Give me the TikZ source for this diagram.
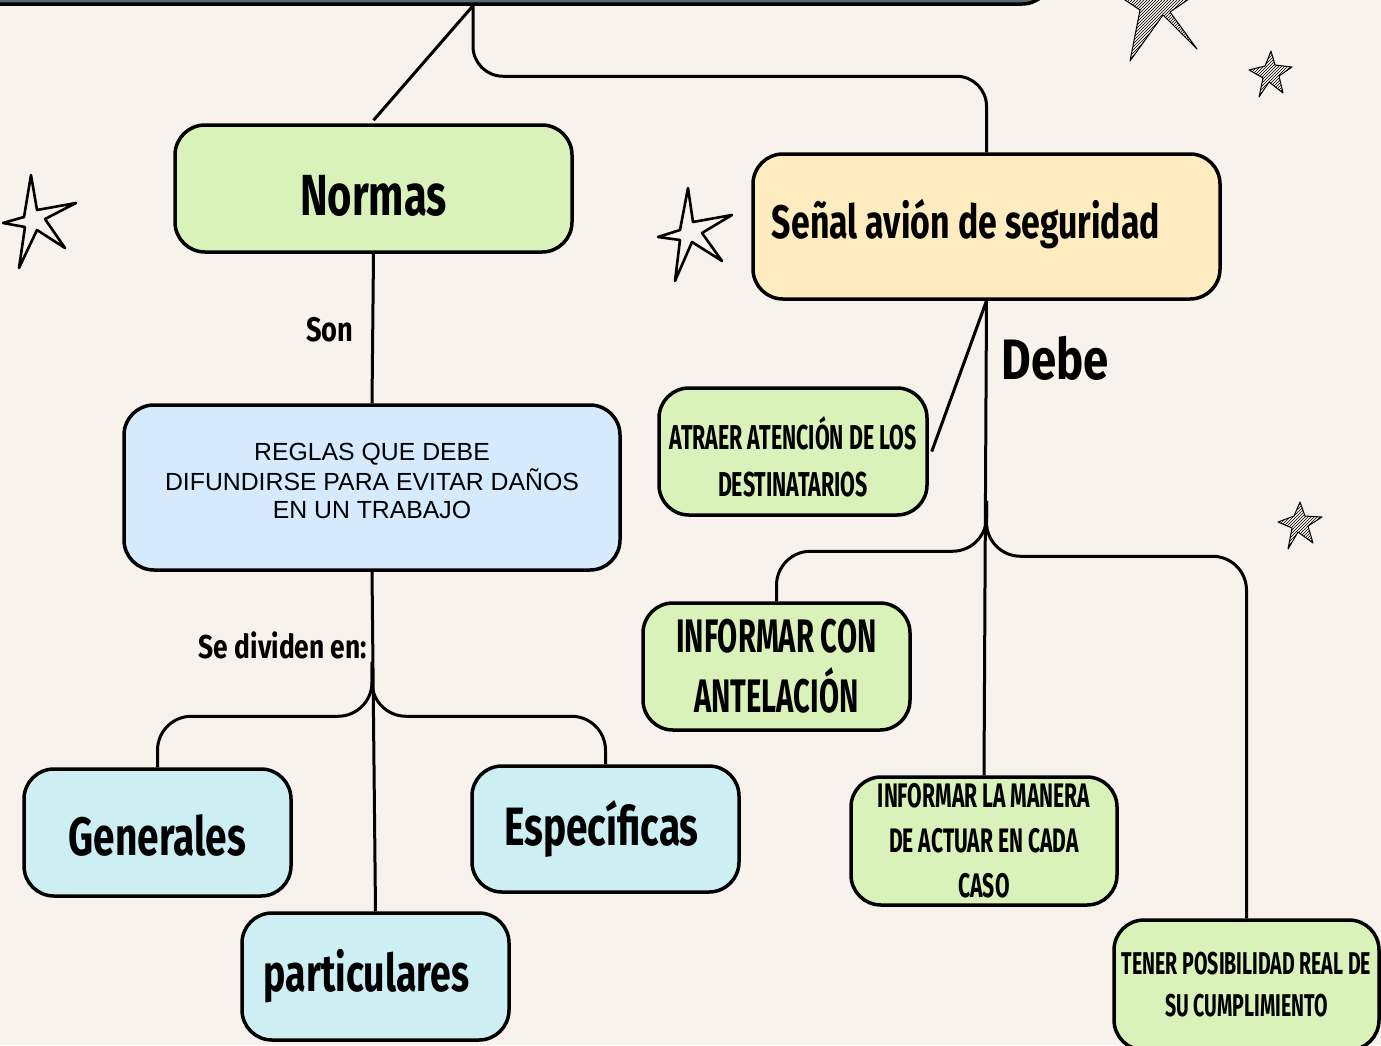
\documentclass[tikz,border=0pt]{standalone}
\usepackage{fontspec}
\setmainfont{Liberation Sans}
\newfontfamily\hand{Fira Sans}[FakeStretch=0.8]
\newfontfamily\handt{Fira Sans}[FakeStretch=0.72]
\newfontfamily\handd{Fira Sans}[FakeStretch=0.62]
\usetikzlibrary{calc,patterns}
\definecolor{bg}{HTML}{F7F3EC}
\definecolor{gfill}{HTML}{D9F2B9}
\definecolor{yfill}{HTML}{FEEBBF}
\definecolor{bfill}{HTML}{D6EAFD}
\definecolor{cfill}{HTML}{CDEFF3}
\definecolor{tfill}{HTML}{56696C}
\newcommand\mlines[2]{\raisebox{#1}[\height][\depth]{\begin{tabular}{@{}c@{}}#2\end{tabular}}}
\newcommand\shiftv[2]{\raisebox{#1}[\height][\depth]{#2}}
\tikzset{
  box/.style={draw=black, line width=3.5pt, rounded corners=30pt, inner sep=0pt, align=center},
  conn/.style={draw=black, line width=3pt},
  lbl/.style={inner sep=0pt, font=\hand\bfseries},
  starline/.style={draw=black, line width=2.6pt, line join=round, fill=bg},
  hatch/.style={draw=black, line width=1pt, line join=round, pattern={north east lines}}
}
\begin{document}
\begin{tikzpicture}[x=1pt,y=-1pt]
\fill[bg] (0,0) rectangle (1381,1045);
\useasboundingbox (0,0) rectangle (1381,1045);
\begin{scope}
\clip (0,0) rectangle (1381,1045);
% top box
\node[box, fill=tfill, minimum width=1092pt, minimum height=84pt] (top) at (506,-38) {};
% boxes
\node[box, fill=gfill, minimum width=397pt, minimum height=127pt, font=\handt\bfseries\fontsize{58}{62}\selectfont] (normas) at (373.5,188.5) {\shiftv{-7pt}{Normas}};
\node[box, fill=yfill, minimum width=467pt, minimum height=145pt, font=\handt\bfseries\fontsize{47}{50}\selectfont] (senal) at (986.5,226.5) {\shiftv{2pt}{Señal avión de seguridad}\hspace*{41pt}};
\node[box, fill=bfill, minimum width=496pt, minimum height=165pt, font=\fontsize{24.8}{28}\selectfont] (reglas) at (372,487.5) {\mlines{4pt}{REGLAS QUE DEBE\\DIFUNDIRSE PARA EVITAR DAÑOS\\EN UN TRABAJO}};
\node[box, fill=gfill, minimum width=268pt, minimum height=127pt, font=\handd\bfseries\fontsize{34.5}{47}\selectfont] (atraer) at (793,451.5) {\mlines{-12pt}{ATRAER ATENCIÓN DE LOS\\DESTINATARIOS}};
\node[box, fill=gfill, minimum width=267pt, minimum height=127pt, font=\handd\bfseries\fontsize{47}{60}\selectfont] (infcon) at (776.5,666.5) {INFORMAR CON\\ANTELACIÓN};
\node[box, fill=gfill, minimum width=266pt, minimum height=128pt, font=\handd\bfseries\fontsize{34}{45}\selectfont] (infman) at (984,841) {INFORMAR LA MANERA\\DE ACTUAR EN CADA\\CASO};
\node[box, fill=gfill, minimum width=265pt, minimum height=130pt, font=\handd\bfseries\fontsize{31.5}{42}\selectfont] (tener) at (1246.5,985) {TENER POSIBILIDAD REAL DE\\SU CUMPLIMIENTO};
\node[box, fill=cfill, minimum width=267pt, minimum height=127pt, font=\handt\bfseries\fontsize{54}{60}\selectfont] (generales) at (157.5,832.5) {\shiftv{-3pt}{Generales}};
\node[box, fill=cfill, minimum width=267pt, minimum height=126pt, font=\handt\bfseries\fontsize{54}{60}\selectfont] (especificas) at (605.5,829) {Específicas\hspace*{8pt}};
\node[box, fill=cfill, minimum width=267pt, minimum height=127pt, font=\handt\bfseries\fontsize{52}{60}\selectfont] (particulares) at (375.5,976.5) {particulares\hspace*{18pt}};
% labels
\node[lbl, font=\hand\bfseries\fontsize{34}{40}\selectfont] (son) at (330,330) {Son};
\node[lbl, font=\hand\bfseries\fontsize{33}{40}\selectfont] (sediv) at (283,645) {Se dividen en:};
\node[lbl, font=\hand\bfseries\fontsize{57}{64}\selectfont] (debe) at (1055,358) {Debe};
% connectors
\coordinate (tj) at ([xshift=-33pt]top.south);
\draw[conn] (tj) -- ([yshift=3pt]normas.north);
\draw[conn, rounded corners=30pt] (tj) |- ([yshift=76pt]senal.north) -- (senal.north);
\draw[conn] (normas.south) -- (reglas.north);
\draw[conn] (reglas.south) -- (particulares.north);
\coordinate (rj) at ([yshift=-90pt]reglas.south);
\draw[conn, rounded corners=34pt] (rj) |- ([yshift=51pt]generales.north) -- (generales.north);
\draw[conn, rounded corners=34pt] (rj) |- ([yshift=48pt]especificas.north) -- (especificas.north);
\draw[conn] (senal.south) -- ([xshift=3pt]atraer.east);
\draw[conn] (senal.south) -- (infman.north);
\coordinate (sj) at ([yshift=-200pt]senal.south);
\draw[conn, rounded corners=34pt] (sj) |- ([yshift=50pt]infcon.north) -- (infcon.north);
\draw[conn, rounded corners=34pt] (sj) |- ([yshift=362pt]tener.north) -- (tener.north);
% outline stars
\draw[starline] (31,175) -- (37,210) -- (76,203) -- (45,219) -- (65,248) -- (37,230) -- (19,268) -- (25,227) -- (3,223) -- (24,217) -- cycle;
\draw[starline] (688,188) -- (693,222) -- (732,215) -- (702,233) -- (722,261) -- (692,242) -- (675,281) -- (680,240) -- (658,237) -- (680,230) -- cycle;
% hatched stars
\draw[hatch] (1150,-40) -- (1160,-8) -- (1205,-12) -- (1170,12) -- (1197,49) -- (1163,15) -- (1130,61) -- (1140,10) -- (1110,-10) -- (1145,-8) -- cycle;
\draw[hatch] (1271,51) -- (1275,65) -- (1292,67) -- (1279,76) -- (1283,93) -- (1269,82) -- (1259,97) -- (1263,78) -- (1249,70) -- (1265,66) -- cycle;
\draw[hatch] (1300,502) -- (1305,516) -- (1322,517) -- (1308,526) -- (1313,543) -- (1298,532) -- (1288,549) -- (1292,528) -- (1278,522) -- (1294,516) -- cycle;
\end{scope}
\end{tikzpicture}
\end{document}
